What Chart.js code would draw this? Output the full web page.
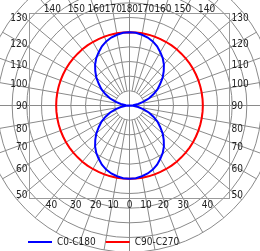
<!DOCTYPE html>
<html>
<head>
<meta charset="utf-8">
<script src="https://cdn.jsdelivr.net/npm/chart.js@4.4.1/dist/chart.umd.min.js"></script>
<style>
  html, body { margin: 0; padding: 0; background: #fff; overflow: hidden; }
  #wrap { width: 260px; height: 251px; overflow: hidden; }
</style>
</head>
<body>
<div id="wrap"><canvas id="c" width="260" height="257"></canvas></div>
<script>
// ---- data (angles in degrees from nadir, values in cd) ----
const angles = [0,5,10,15,20,25,30,35,40,45,50,55,60,65,70,75,80,85,90,95,100,105,110,115,120,125,130,135,140,145,150,155,160,165,170,175,
                180,185,190,195,200,205,210,215,220,225,230,235,240,245,250,255,260,265,270,275,280,285,290,295,300,305,310,315,320,325,330,335,340,345,350,355];
const c0c180 = [100,99.5,98,96,93,89,84,79,73,66,59,51,44,36,28,20,12,5,0,5,12,20,28,36,44,51,59,66,73,79,84,89,93,96,98,99.5,
                100,99.5,98,96,93,89,84,79,73,66,59,51,44,36,28,20,12,5,0,5,12,20,28,36,44,51,59,66,73,79,84,89,93,96,98,99.5];
const c90c270 = [100,100,100,100,100,100,100,100,100,100,100,100,100,100,100,100,100,100,100,100,100,100,100,100,100,100,100,100,100,100,100,100,100,100,100,100,
                 100,100,100,100,100,100,100,100,100,100,100,100,100,100,100,100,100,100,100,100,100,100,100,100,100,100,100,100,100,100,100,100,100,100,100,100];
const edgeTickLabels = [0,10,20,30,40,50,60,70,80,90,100,110,120,130,140,150,160,170,180];
const seriesNames = ['C0-C180', 'C90-C270'];

const GRID = '#8a8a8a';
const FONT = '"DejaVu Sans Condensed", "DejaVu Sans", sans-serif';
const BOX = { left: 29.5, top: 13.5, right: 229.5, bottom: 198.5 };
const CENTER = { x: 129.5, y: 105.5 };
const PX_PER_UNIT = 0.7333;
const R_MAX = 200;

function clipBox(ctx) {
  ctx.beginPath();
  ctx.rect(BOX.left, BOX.top, BOX.right - BOX.left, BOX.bottom - BOX.top);
  ctx.clip();
}

const polarFrame = {
  id: 'polarFrame',
  afterLayout(chart) {
    const s = chart.scales.r;
    s.xCenter = CENTER.x;
    s.yCenter = CENTER.y;
    s.drawingArea = PX_PER_UNIT * R_MAX;
    if (!s._boxClipped) {
      const orig = s.draw;
      s.draw = function (area) {
        const ctx = this.ctx;
        ctx.save();
        clipBox(ctx);
        orig.call(this, area);
        ctx.restore();
      };
      s._boxClipped = true;
    }
  },
  beforeDatasetsDraw(chart) {
    const ctx = chart.ctx, s = chart.scales.r;
    const r1 = s.getDistanceFromCenterForValue(20);
    ctx.save();
    ctx.beginPath();
    ctx.arc(s.xCenter, s.yCenter, r1 - 0.7, 0, Math.PI * 2);
    ctx.fillStyle = '#fff';
    ctx.fill();
    ctx.strokeStyle = GRID;
    ctx.lineWidth = 1;
    ctx.beginPath();
    ctx.moveTo(s.xCenter - r1, s.yCenter); ctx.lineTo(s.xCenter + r1, s.yCenter);
    ctx.moveTo(s.xCenter, s.yCenter - r1); ctx.lineTo(s.xCenter, s.yCenter + r1);
    ctx.stroke();
    ctx.restore();
  },
  afterDraw(chart) {
    const ctx = chart.ctx, s = chart.scales.r;
    ctx.save();
    ctx.strokeStyle = '#9a9a9a';
    ctx.lineWidth = 1;
    ctx.strokeRect(BOX.left, BOX.top, BOX.right - BOX.left, BOX.bottom - BOX.top);
    ctx.fillStyle = '#222';
    ctx.font = '10px ' + FONT;
    ctx.textBaseline = 'alphabetic';
    const halfW = BOX.right - s.xCenter, halfH = s.yCenter - BOX.top, halfHb = BOX.bottom - s.yCenter;
    const step = 360 / angles.length;
    edgeTickLabels.forEach(a => {
      const idxs = (a === 0 || a === 180) ? [a / step] : [a / step, (360 - a) / step];
      idxs.forEach(idx => {
        const p = s.getPointPosition(idx, 1);
        const dx = p.x - s.xCenter, dy = p.y - s.yCenter;
        const hh = dy > 0 ? halfHb : halfH;
        if (Math.abs(dx) * hh > Math.abs(dy) * halfW + 1e-9) {
          const t = halfW / Math.abs(dx);
          const y = s.yCenter + dy * t;
          let cy = y;
          if (a < 90) cy = y + 5; else if (a > 90) cy = y - 4.5;
          if (dx < 0) { ctx.textAlign = 'right'; ctx.fillText(String(a), BOX.left - 2, cy + 3.6); }
          else { ctx.textAlign = 'left'; ctx.fillText(String(a), BOX.right + 2, cy + 3.6); }
        } else {
          const t = hh / Math.abs(dy);
          const x = s.xCenter + dx * t;
          ctx.textAlign = 'center';
          if (dy > 0) ctx.fillText(String(a), x, BOX.bottom + 9);
          else ctx.fillText(String(a), x, BOX.top - 1.8);
        }
      });
    });
    ctx.restore();
  }
};

new Chart(document.getElementById('c'), {
  type: 'radar',
  data: {
    labels: angles.map(String),
    datasets: [
      { label: seriesNames[0], data: c0c180, borderColor: '#0000ff', backgroundColor: '#0000ff', borderWidth: 2, fill: false, pointRadius: 0, tension: 0 },
      { label: seriesNames[1], data: c90c270, borderColor: '#ff0000', backgroundColor: '#ff0000', borderWidth: 2, fill: false, pointRadius: 0, tension: 0 }
    ]
  },
  options: {
    responsive: false,
    animation: false,
    layout: { padding: { left: 18, right: 0, top: 0, bottom: 0 } },
    plugins: {
      legend: {
        position: 'bottom',
        align: 'start',
        labels: {
          usePointStyle: true,
          pointStyle: 'line',
          pointStyleWidth: 24,
          padding: 10,
          color: '#222',
          font: { family: FONT, size: 10 }
        }
      },
      tooltip: { enabled: false }
    },
    scales: {
      r: {
        min: 0,
        max: R_MAX,
        startAngle: 180,
        ticks: { display: false, stepSize: 20 },
        grid: { circular: true, color: GRID, lineWidth: 1 },
        angleLines: { display: true, lineWidth: 1, color: (c) => (c.index % 2 === 0 ? GRID : 'rgba(0,0,0,0)') },
        pointLabels: { display: false }
      }
    }
  },
  plugins: [polarFrame]
});
</script>
</body>
</html>
